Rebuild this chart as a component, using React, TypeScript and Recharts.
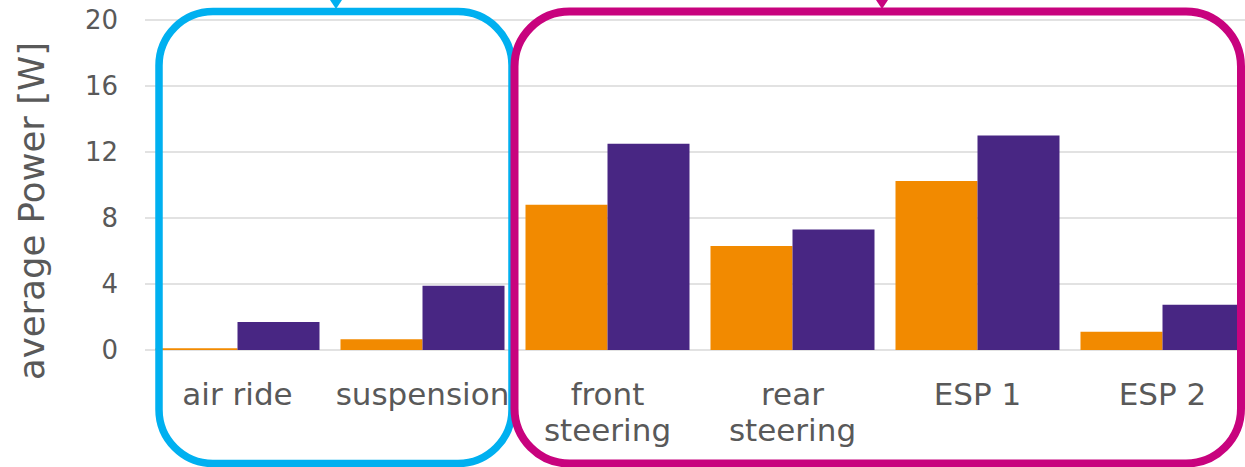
import React from 'react';
import { BarChart, Bar, XAxis, YAxis, CartesianGrid } from 'recharts';

const categories = ['air ride', 'suspension', 'front steering', 'rear steering', 'ESP 1', 'ESP 2'];
const orangeValues = [0.1, 0.65, 8.8, 6.3, 10.25, 1.1];
const purpleValues = [1.7, 3.9, 12.5, 7.3, 13.0, 2.75];
const yTicks = [0, 4, 8, 12, 16, 20];

const data = categories.map((name, i) => ({
  name,
  orange: orangeValues[i],
  purple: purpleValues[i],
}));

const labelColor = '#595959';
const font = '"DejaVu Sans", Verdana, sans-serif';

function CategoryTick({ x, y, payload }: any) {
  const words: string[] = payload.value === 'front steering' || payload.value === 'rear steering'
    ? payload.value.split(' ')
    : [payload.value];
  return (
    <text x={x} y={y + 47} textAnchor="middle" fill={labelColor} fontSize={31} fontFamily={font}>
      {words.map((w, i) => (
        <tspan key={i} x={x} dy={i === 0 ? 0 : 36}>{w}</tspan>
      ))}
    </text>
  );
}

function AxisTitle({ viewBox }: any) {
  const cx = 44;
  const cy = viewBox.y + viewBox.height / 2 + 26;
  return (
    <text
      x={cx}
      y={cy}
      transform={`rotate(-90 ${cx} ${cy})`}
      textAnchor="middle"
      fill={labelColor}
      fontSize={35.5}
      fontFamily={font}
    >
      average Power [W]
    </text>
  );
}

export default function App() {
  return (
    <div style={{ position: 'absolute', left: 0, top: 0, width: 1245, height: 467, overflow: 'hidden', background: '#fff' }}>
      <BarChart
        width={1262}
        height={467}
        data={data}
        margin={{ top: 20, right: 7, bottom: 87, left: 0 }}
        barCategoryGap={10.5}
        barGap={0}
      >
        <CartesianGrid vertical={false} stroke="#d9d9d9" strokeWidth={1.5} />
        <XAxis
          dataKey="name"
          height={30}
          axisLine={false}
          tickLine={false}
          interval={0}
          tick={<CategoryTick />}
        />
        <YAxis
          width={145}
          domain={[0, 20]}
          ticks={yTicks}
          axisLine={false}
          tickLine={false}
          tickMargin={21}
          tick={{ fill: labelColor, fontSize: 26, fontFamily: font }}
          label={<AxisTitle />}
        />
        <Bar dataKey="orange" fill="#f28a00" isAnimationActive={false} />
        <Bar dataKey="purple" fill="#482683" isAnimationActive={false} />
      </BarChart>
      <svg
        width={1245}
        height={467}
        style={{ position: 'absolute', left: 0, top: 0, pointerEvents: 'none' }}
      >
        <rect x={159} y={11.5} width={353} height={452} rx={54} ry={54} fill="none" stroke="#00b0f0" strokeWidth={7.5} />
        <polygon points="330,0 342,0 336,9" fill="#00b0f0" />
        <rect x={514.5} y={11.5} width={726.5} height={452} rx={55} ry={55} fill="none" stroke="#c8037e" strokeWidth={8} />
        <polygon points="876,0 888,0 882,9" fill="#c8037e" />
      </svg>
    </div>
  );
}
